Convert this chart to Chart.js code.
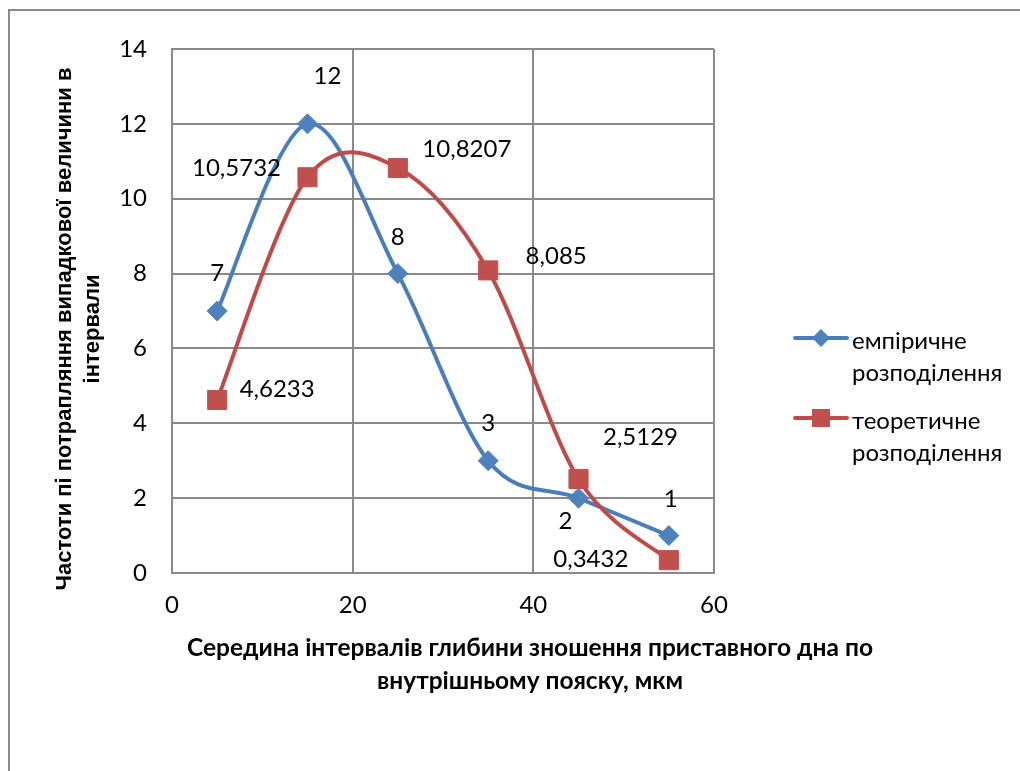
<!DOCTYPE html>
<html>
<head>
<meta charset="utf-8">
<script src="https://cdn.jsdelivr.net/npm/chart.js@4.4.0/dist/chart.umd.min.js"></script>
<style>
  html, body { margin: 0; padding: 0; background: #fff; }
  canvas { display: block; }
</style>
</head>
<body>
<canvas id="freq_chart" width="1020" height="771"></canvas>
<script>
// середини інтервалів, мкм
var intervalMids = [5, 15, 25, 35, 45, 55];
var empiricalFreq = [7, 12, 8, 3, 2, 1];
var theoreticalFreq = [4.6233, 10.5732, 10.8207, 8.085, 2.5129, 0.3432];
var xTicks = [0, 20, 40, 60];
var yTicks = [0, 2, 4, 6, 8, 10, 12, 14];
var seriesNames = [["емпіричне", "розподілення"], ["теоретичне", "розподілення"]];
var xTitle = ["Середина інтервалів глибини зношення приставного дна по", "внутрішньому пояску, мкм"];
var yTitle = ["Частоти пі потрапляння випадкової величини в", "інтервали"];

// зсув підписів значень відносно точок, px
var empiricalLabelShift = [[0, -38], [20, -48], [0, -36], [0, -37], [-13, 23], [2, -36]];
var theoreticalLabelShift = [[60, -11], [-71, -9], [69, -19], [68, -14], [62, -42], [-78, -1]];

var BLUE = "#4a7ebb", BLUE_FILL = "#4f81bd";
var RED = "#be4b48", RED_FILL = "#c0504d";
var GRID = "#8a8a8a";
var FONT = "Lato, 'Noto Sans', sans-serif";

function toPoints(xs, ys) {
  return xs.map(function (x, i) { return { x: x, y: ys[i] }; });
}

function fmt(v) {
  return String(v).replace(".", ",");
}

var framePlugin = {
  id: "frame",
  beforeDraw: function (chart) {
    var c = chart.ctx;
    c.save();
    c.fillStyle = "#fff";
    c.fillRect(0, 0, chart.width, chart.height);
    c.strokeStyle = GRID;
    c.lineWidth = 2;
    c.strokeRect(9, 10, chart.width + 20, chart.height + 20);
    c.restore();
  },
};

// згладжування як в Excel: дотичні = (наступна - попередня) / 6
var excelSpline = {
  id: "excelSpline",
  beforeDatasetsDraw: function (chart) {
    chart.data.datasets.forEach(function (ds, di) {
      var meta = chart.getDatasetMeta(di);
      meta.dataset.updateControlPoints(chart.chartArea);
      var pts = meta.data;
      pts.forEach(function (p, i) {
        var prev = pts[i - 1] || p;
        var next = pts[i + 1] || p;
        var dx = (next.x - prev.x) / 6;
        var dy = (next.y - prev.y) / 6;
        p.cp1x = p.x - dx;
        p.cp1y = p.y - dy;
        p.cp2x = p.x + dx;
        p.cp2y = p.y + dy;
      });
    });
  },
};

var valueLabels = {
  id: "valueLabels",
  afterDatasetsDraw: function (chart) {
    var c = chart.ctx;
    var shifts = [empiricalLabelShift, theoreticalLabelShift];
    c.save();
    c.font = "24px " + FONT;
    c.fillStyle = "#000";
    c.textAlign = "center";
    c.textBaseline = "middle";
    chart.data.datasets.forEach(function (ds, di) {
      var meta = chart.getDatasetMeta(di);
      meta.data.forEach(function (pt, i) {
        var s = shifts[di][i];
        c.fillText(fmt(ds.data[i].y), pt.x + s[0], pt.y + s[1]);
      });
    });
    c.restore();
  },
};

var titlesAndLegend = {
  id: "titlesAndLegend",
  afterDraw: function (chart) {
    var c = chart.ctx;
    c.save();
    c.fillStyle = "#000";
    c.textAlign = "center";
    c.textBaseline = "middle";

    // назва осі X
    c.font = "bold 24.5px " + FONT;
    c.fillText(xTitle[0], 530, 648);
    c.fillText(xTitle[1], 530, 681);

    // назва осі Y
    c.save();
    c.translate(65, 329);
    c.rotate(-Math.PI / 2);
    c.font = "bold 22px 'Liberation Sans', Arial, sans-serif";
    c.fillText(yTitle[0], 0, 0);
    c.fillText(yTitle[1], 0, 28);
    c.restore();

    // легенда
    var rows = [
      { y: 338, line: BLUE, fill: BLUE_FILL, shape: "diamond" },
      { y: 418, line: RED, fill: RED_FILL, shape: "square" },
    ];
    c.textAlign = "left";
    c.font = "24px " + FONT;
    rows.forEach(function (r, i) {
      c.strokeStyle = r.line;
      c.lineWidth = 4;
      c.lineCap = "round";
      c.beginPath();
      c.moveTo(795, r.y);
      c.lineTo(847, r.y);
      c.stroke();
      c.fillStyle = r.fill;
      c.beginPath();
      if (r.shape === "diamond") {
        c.moveTo(821, r.y - 9);
        c.lineTo(830, r.y);
        c.lineTo(821, r.y + 9);
        c.lineTo(812, r.y);
        c.closePath();
      } else {
        c.rect(812, r.y - 9, 18, 18);
      }
      c.fill();
      c.fillStyle = "#000";
      c.fillText(seriesNames[i][0], 852, r.y + 3);
      c.fillText(seriesNames[i][1], 852, r.y + 35);
    });
    c.restore();
  },
};

var ctx = document.getElementById("freq_chart").getContext("2d");
var freq_chart = new Chart(ctx, {
  type: "line",
  data: {
    datasets: [
      {
        label: seriesNames[0].join(" "),
        data: toPoints(intervalMids, empiricalFreq),
        borderColor: BLUE,
        backgroundColor: BLUE_FILL,
        borderWidth: 4,
        pointStyle: "rectRot",
        pointRadius: 10,
        pointBorderColor: BLUE_FILL,
        pointBorderWidth: 1,
        tension: 0.4,
        order: 1,
      },
      {
        label: seriesNames[1].join(" "),
        data: toPoints(intervalMids, theoreticalFreq),
        borderColor: RED,
        backgroundColor: RED_FILL,
        borderWidth: 4,
        pointStyle: "rect",
        pointRadius: 13.5,
        pointBorderColor: RED_FILL,
        pointBorderWidth: 1,
        tension: 0.4,
        order: 0,
      },
    ],
  },
  options: {
    responsive: false,
    animation: false,
    layout: {
      padding: { top: 49, right: 306, bottom: 0, left: 0 },
    },
    scales: {
      x: {
        type: "linear",
        min: 0,
        max: 60,
        afterBuildTicks: function (axis) {
          axis.ticks = xTicks.map(function (v) { return { value: v }; });
        },
        afterFit: function (axis) {
          axis.height = 198;
        },
        grid: { color: GRID, lineWidth: 2, drawTicks: false },
        border: { color: GRID, width: 2 },
        ticks: {
          padding: 18,
          color: "#000",
          font: { family: FONT, size: 24 },
        },
      },
      y: {
        min: 0,
        max: 14,
        afterBuildTicks: function (axis) {
          axis.ticks = yTicks.map(function (v) { return { value: v }; });
        },
        afterFit: function (axis) {
          axis.width = 172;
        },
        grid: { color: GRID, lineWidth: 2, drawTicks: false },
        border: { color: GRID, width: 2 },
        ticks: {
          padding: 25,
          color: "#000",
          font: { family: FONT, size: 24 },
        },
      },
    },
    plugins: {
      legend: { display: false },
      tooltip: { enabled: false },
    },
  },
  plugins: [framePlugin, excelSpline, valueLabels, titlesAndLegend],
});
</script>
</body>
</html>
